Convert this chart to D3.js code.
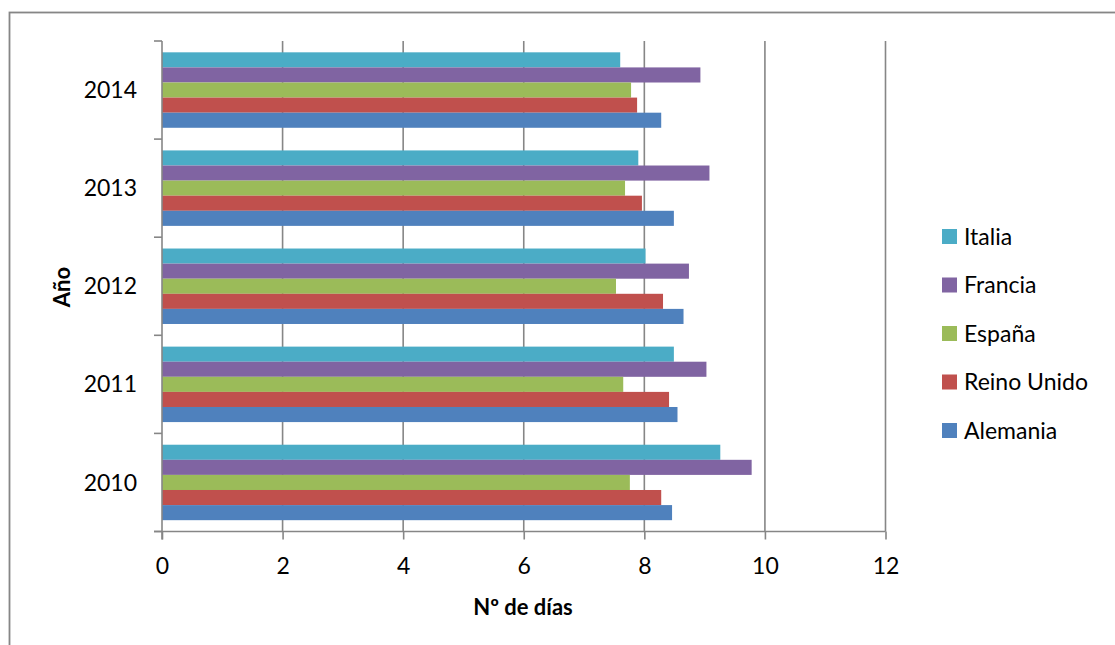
<!DOCTYPE html>
<html>
<head>
<meta charset="utf-8">
<script src="https://cdn.jsdelivr.net/npm/d3@7"></script>
<style>
  html, body { margin: 0; padding: 0; background: #fff; }
  svg { display: block; font-family: Lato, "Open Sans", sans-serif; }
</style>
</head>
<body>
<svg id="chart" width="1115" height="645"></svg>
<script>
// Years shown on the vertical axis, top to bottom
const years = ["2014", "2013", "2012", "2011", "2010"];
// Countries, in the order bars are stacked inside each year (top to bottom)
const countries = ["Italia", "Francia", "España", "Reino Unido", "Alemania"];
const colors = ["#4BACC6", "#8064A2", "#9BBB59", "#C0504D", "#4F81BD"];

// Number of days per country, one array per country, aligned with `years`
const italia     = [7.60, 7.90, 8.02, 8.49, 9.26];
const francia    = [8.93, 9.08, 8.74, 9.03, 9.78];
const espana     = [7.78, 7.68, 7.53, 7.65, 7.76];
const reinoUnido = [7.88, 7.96, 8.31, 8.41, 8.28];
const alemania   = [8.28, 8.49, 8.65, 8.55, 8.46];

const xTicks = [0, 2, 4, 6, 8, 10, 12];

const seriesValues = [italia, francia, espana, reinoUnido, alemania];
const rows = [];
years.forEach((y, i) => {
  countries.forEach((c, j) => rows.push({ year: y, country: c, value: seriesValues[j][i] }));
});

const svg = d3.select("#chart");
const gridColor = "#868686";
const fontSize = 23;

// Outer chart frame
svg.append("rect")
  .attr("x", 9.5).attr("y", 12.5)
  .attr("width", 1130).attr("height", 660)
  .attr("fill", "none").attr("stroke", gridColor).attr("stroke-width", 1.8);

const x = d3.scaleLinear().domain([0, 12]).range([162, 885.5]);
const y = d3.scaleBand().domain(years).range([41, 531.5]).padding(0);
const yInner = d3.scaleBand().domain(countries).range([0, y.bandwidth()])
  .paddingInner(0).paddingOuter(0.75);
const color = d3.scaleOrdinal().domain(countries).range(colors);

// Vertical gridlines
svg.append("g")
  .selectAll("line")
  .data(xTicks.filter(t => t > 0))
  .join("line")
  .attr("x1", d => x(d)).attr("x2", d => x(d))
  .attr("y1", y.range()[0]).attr("y2", y.range()[1])
  .attr("stroke", gridColor).attr("stroke-width", 1.6);

// Bars
svg.append("g")
  .selectAll("rect")
  .data(rows)
  .join("rect")
  .attr("x", x(0))
  .attr("y", d => y(d.year) + yInner(d.country))
  .attr("width", d => x(d.value) - x(0))
  .attr("height", yInner.bandwidth())
  .attr("fill", d => color(d.country));

// X axis
const xAxis = svg.append("g")
  .attr("transform", `translate(0,${y.range()[1]})`)
  .call(d3.axisBottom(x).tickValues(xTicks).tickSize(8).tickPadding(18));
xAxis.select(".domain").attr("stroke", gridColor).attr("stroke-width", 1.6)
  .attr("d", `M${x(0) - 8},0H${x(12)}`);
xAxis.selectAll(".tick line").attr("stroke", gridColor).attr("stroke-width", 1.6);
xAxis.selectAll(".tick text").attr("fill", "#000").attr("font-size", fontSize)
  .attr("font-family", "Lato, sans-serif");

// Y axis: ticks sit on the boundaries between years
const yAxis = svg.append("g").attr("transform", `translate(${x(0)},0)`);
yAxis.append("line")
  .attr("x1", 0).attr("x2", 0)
  .attr("y1", y.range()[0]).attr("y2", y.range()[1] + 8)
  .attr("stroke", gridColor).attr("stroke-width", 1.6);
const bounds = years.map(d => y(d)).concat([y.range()[1]]);
yAxis.selectAll("line.tk")
  .data(bounds)
  .join("line").attr("class", "tk")
  .attr("x1", -8).attr("x2", 0)
  .attr("y1", d => d).attr("y2", d => d)
  .attr("stroke", gridColor).attr("stroke-width", 1.6);
yAxis.selectAll("text")
  .data(years)
  .join("text")
  .attr("x", -25)
  .attr("y", d => y(d) + y.bandwidth() / 2)
  .attr("dy", "0.35em")
  .attr("text-anchor", "end")
  .attr("font-size", fontSize)
  .attr("fill", "#000")
  .text(d => d);

// Axis titles
svg.append("text")
  .attr("x", 523).attr("y", 615)
  .attr("text-anchor", "middle")
  .attr("font-size", 22).attr("font-weight", "bold")
  .text("Nº de días");
svg.append("text")
  .attr("transform", "translate(70,287) rotate(-90)")
  .attr("text-anchor", "middle")
  .attr("font-size", 22).attr("font-weight", "bold")
  .text("Año");

// Legend
const legend = svg.append("g")
  .selectAll("g")
  .data(countries)
  .join("g")
  .attr("transform", (d, i) => `translate(942,${229 + i * 48.5})`);
legend.append("rect")
  .attr("width", 15).attr("height", 15)
  .attr("fill", d => color(d));
legend.append("text")
  .attr("x", 22).attr("y", 7.5).attr("dy", "0.36em")
  .attr("font-size", fontSize).attr("fill", "#000")
  .text(d => d);
</script>
</body>
</html>
